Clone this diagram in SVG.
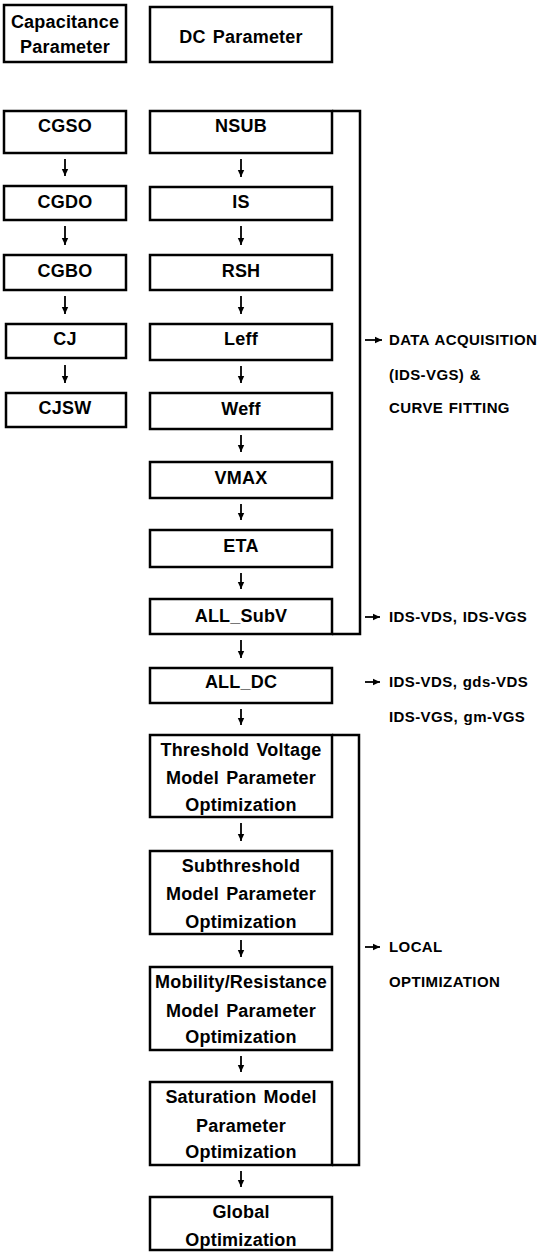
<svg xmlns="http://www.w3.org/2000/svg" width="548" height="1252" viewBox="0 0 548 1252">
<defs>
<marker id="ah" markerWidth="8" markerHeight="8" refX="7" refY="4" orient="auto" markerUnits="userSpaceOnUse">
<path d="M0,0.8 L7,4 L0,7.2 Z" fill="#000"/>
</marker>
<style>
rect{fill:#fff;stroke:#000;stroke-width:2.5}
.t{font-family:"Liberation Sans",Arial,sans-serif;font-weight:bold;font-size:18px;letter-spacing:0.2px;word-spacing:2px;text-anchor:middle;fill:#000}
.r{font-family:"Liberation Sans",Arial,sans-serif;font-weight:bold;font-size:15px;letter-spacing:0.4px;word-spacing:1px;fill:#000}
.c line{stroke:#000;stroke-width:1.8;marker-end:url(#ah)}
.c path{fill:none;stroke:#000;stroke-width:2.5}
</style>
</defs>
<rect width="548" height="1252" fill="#fff" style="stroke:none"/>

<g id="cap-param"><rect x="4" y="5" width="122" height="57"/><text class="t" x="65" y="28">Capacitance</text><text class="t" x="65" y="53">Parameter</text></g>
<g id="dc-param"><rect x="150" y="7" width="182" height="55"/><text class="t" x="241" y="43">DC Parameter</text></g>

<g id="cgso"><rect x="4" y="111" width="122" height="42"/><text class="t" x="65" y="132">CGSO</text></g>
<g id="cgdo"><rect x="4" y="186" width="122" height="34"/><text class="t" x="65" y="208">CGDO</text></g>
<g id="cgbo"><rect x="4" y="255" width="122" height="35"/><text class="t" x="65" y="277">CGBO</text></g>
<g id="cj"><rect x="6" y="324" width="120" height="34"/><text class="t" x="65" y="345">CJ</text></g>
<g id="cjsw"><rect x="6" y="393" width="120" height="34"/><text class="t" x="65" y="414">CJSW</text></g>

<g id="nsub"><rect x="150" y="111" width="182" height="42"/><text class="t" x="241" y="132">NSUB</text></g>
<g id="is"><rect x="150" y="187" width="182" height="33"/><text class="t" x="241" y="208">IS</text></g>
<g id="rsh"><rect x="150" y="255" width="182" height="35"/><text class="t" x="241" y="277">RSH</text></g>
<g id="leff"><rect x="150" y="324" width="182" height="36"/><text class="t" x="241" y="345">Leff</text></g>
<g id="weff"><rect x="150" y="393" width="182" height="36"/><text class="t" x="241" y="415">Weff</text></g>
<g id="vmax"><rect x="150" y="462" width="182" height="36"/><text class="t" x="241" y="484">VMAX</text></g>
<g id="eta"><rect x="150" y="530" width="182" height="37"/><text class="t" x="241" y="552">ETA</text></g>
<g id="all-subv"><rect x="150" y="599" width="182" height="35"/><text class="t" x="241" y="622">ALL_SubV</text></g>
<g id="all-dc"><rect x="150" y="668" width="182" height="35"/><text class="t" x="241" y="688">ALL_DC</text></g>
<g id="threshold"><rect x="150" y="735" width="182" height="82"/><text class="t" x="241" y="756">Threshold Voltage</text><text class="t" x="241" y="784">Model Parameter</text><text class="t" x="241" y="811">Optimization</text></g>
<g id="subthreshold"><rect x="150" y="851" width="182" height="83"/><text class="t" x="241" y="872">Subthreshold</text><text class="t" x="241" y="900">Model Parameter</text><text class="t" x="241" y="928">Optimization</text></g>
<g id="mobility"><rect x="150" y="967" width="182" height="83"/><text class="t" x="241" y="988">Mobility/Resistance</text><text class="t" x="241" y="1017">Model Parameter</text><text class="t" x="241" y="1043">Optimization</text></g>
<g id="saturation"><rect x="150" y="1082" width="182" height="83"/><text class="t" x="241" y="1103">Saturation Model</text><text class="t" x="241" y="1132">Parameter</text><text class="t" x="241" y="1158">Optimization</text></g>
<g id="global"><rect x="150" y="1197" width="182" height="53"/><text class="t" x="241" y="1218">Global</text><text class="t" x="241" y="1246">Optimization</text></g>

<g id="connectors" class="c">
<line x1="65" y1="159" x2="65" y2="176"/>
<line x1="65" y1="226" x2="65" y2="245"/>
<line x1="65" y1="296" x2="65" y2="314"/>
<line x1="65" y1="365" x2="65" y2="383"/>
<line x1="241" y1="159" x2="241" y2="177"/>
<line x1="241" y1="226" x2="241" y2="245"/>
<line x1="241" y1="296" x2="241" y2="314"/>
<line x1="241" y1="366" x2="241" y2="383"/>
<line x1="241" y1="435" x2="241" y2="452"/>
<line x1="241" y1="504" x2="241" y2="520"/>
<line x1="241" y1="573" x2="241" y2="589"/>
<line x1="241" y1="640" x2="241" y2="658"/>
<line x1="241" y1="709" x2="241" y2="725"/>
<line x1="241" y1="823" x2="241" y2="841"/>
<line x1="241" y1="940" x2="241" y2="957"/>
<line x1="241" y1="1056" x2="241" y2="1072"/>
<line x1="241" y1="1171" x2="241" y2="1187"/>
<path d="M332,111 H360 V634 H332"/>
<path d="M332,735 H359 V1165 H332"/>
<line x1="365" y1="340" x2="382" y2="340"/>
<line x1="365" y1="617" x2="380" y2="617"/>
<line x1="365" y1="682" x2="380" y2="682"/>
<line x1="365" y1="947" x2="380" y2="947"/>
</g>

<g id="labels">
<text class="r" x="389" y="345">DATA ACQUISITION</text>
<text class="r" x="389" y="380">(IDS-VGS) &amp;</text>
<text class="r" x="389" y="413">CURVE FITTING</text>
<text class="r" x="389" y="622">IDS-VDS, IDS-VGS</text>
<text class="r" x="389" y="687">IDS-VDS, gds-VDS</text>
<text class="r" x="389" y="722">IDS-VGS, gm-VGS</text>
<text class="r" x="389" y="952">LOCAL</text>
<text class="r" x="389" y="987">OPTIMIZATION</text>
</g>
</svg>
